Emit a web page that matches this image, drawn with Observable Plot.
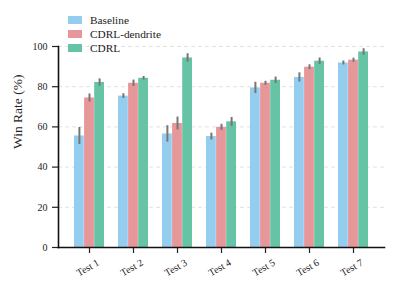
<!DOCTYPE html>
<html>
<head>
<meta charset="utf-8">
<script src="https://cdn.jsdelivr.net/npm/d3@7"></script>
<script src="https://cdn.jsdelivr.net/npm/@observablehq/plot@0.6"></script>
<style>
  html, body { margin: 0; padding: 0; background: #fff; }
  #wrap { position: relative; width: 396px; height: 293px; font-family: "Liberation Serif", "Times New Roman", Times, serif; }
  #wrap svg, #wrap svg text { font-family: "Liberation Serif", "Times New Roman", Times, serif !important; }
  #legend { position: absolute; left: 68px; top: 13px; font-size: 11.3px; color: #222; }
  .row { display: flex; align-items: center; height: 14px; }
  .sw { width: 14px; height: 8px; margin-right: 8px; }
</style>
</head>
<body>
<div id="wrap"><div id="legend"></div></div>
<script>
const tests = ["Test 1", "Test 2", "Test 3", "Test 4", "Test 5", "Test 6", "Test 7"];
const seriesNames = ["Baseline", "CDRL-dendrite", "CDRL"];
const colors = ["#95cdef", "#e5979a", "#66c3a5"];
const baseline = [55.5, 75.3, 56.5, 55.2, 79.4, 84.6, 91.8];
const baselineErr = [4.2, 1.2, 4.1, 1.7, 2.8, 2.3, 1.0];
const dendrite = [74.4, 81.7, 61.7, 59.8, 81.7, 89.7, 93.2];
const dendriteErr = [2.0, 1.6, 3.2, 1.5, 1.0, 1.2, 1.0];
const cdrl = [82.1, 84.2, 94.3, 62.5, 83.2, 92.7, 97.3];
const cdrlErr = [1.8, 0.9, 2.1, 2.2, 1.6, 1.6, 1.6];
const yTicks = [0, 20, 40, 60, 80, 100];

const allVals = [baseline, dendrite, cdrl];
const allErrs = [baselineErr, dendriteErr, cdrlErr];
const rows = [];
seriesNames.forEach((s, si) => tests.forEach((t, i) => rows.push({test: t, series: s, si, value: allVals[si][i], err: allErrs[si][i]})));

const bw = 30.3;
const third = bw / 3;
const marks = [
  Plot.gridY(yTicks.filter(d => d > 0), {stroke: "#e2e2e2", strokeOpacity: 1, strokeDasharray: "4,3", strokeWidth: 1})
];
seriesNames.forEach((s, si) => {
  const data = rows.filter(d => d.si === si);
  marks.push(Plot.barY(data, {x: "test", y: "value", fill: colors[si], insetLeft: si * third, insetRight: (2 - si) * third}));
});
seriesNames.forEach((s, si) => {
  const data = rows.filter(d => d.si === si);
  marks.push(Plot.ruleX(data, {x: "test", y1: d => d.value - d.err, y2: d => d.value + d.err, dx: (si - 1) * third, stroke: "#767676", strokeWidth: 2}));
});
marks.push(
  Plot.axisY({ticks: yTicks, tickSize: 6, tickPadding: 5, fontSize: 10, label: null, tickFormat: d => d, strokeWidth: 1.2}),
  Plot.axisX({tickSize: 6, tickFormat: () => "", label: null, strokeWidth: 1.2}),
  Plot.text(tests, {x: d => d, frameAnchor: "bottom", dy: 23, rotate: -30, fontSize: 10, fill: "#222"}),
  Plot.frame({anchor: "left", stroke: "#111", strokeWidth: 1.6}),
  Plot.frame({anchor: "bottom", stroke: "#111", strokeWidth: 1.6}),
  Plot.text(["Win Rate (%)"], {frameAnchor: "left", dx: -41, dy: 2, rotate: -90, fontSize: 13.5, fill: "#222"})
);

const chart = Plot.plot({
  width: 396,
  height: 293,
  marginLeft: 58,
  marginRight: 12,
  marginTop: 46,
  marginBottom: 46,
  style: {fontFamily: "'Liberation Serif', 'Times New Roman', serif", color: "#222", background: "#fff"},
  x: {domain: tests, padding: 0.32, label: null},
  y: {domain: [0, 100], label: null},
  marks
});
document.getElementById("wrap").appendChild(chart);

const legend = document.getElementById("legend");
seriesNames.forEach((s, si) => {
  const r = document.createElement("div");
  r.className = "row";
  r.innerHTML = `<div class="sw" style="background:${colors[si]}"></div><span>${s}</span>`;
  legend.appendChild(r);
});
</script>
</body>
</html>
